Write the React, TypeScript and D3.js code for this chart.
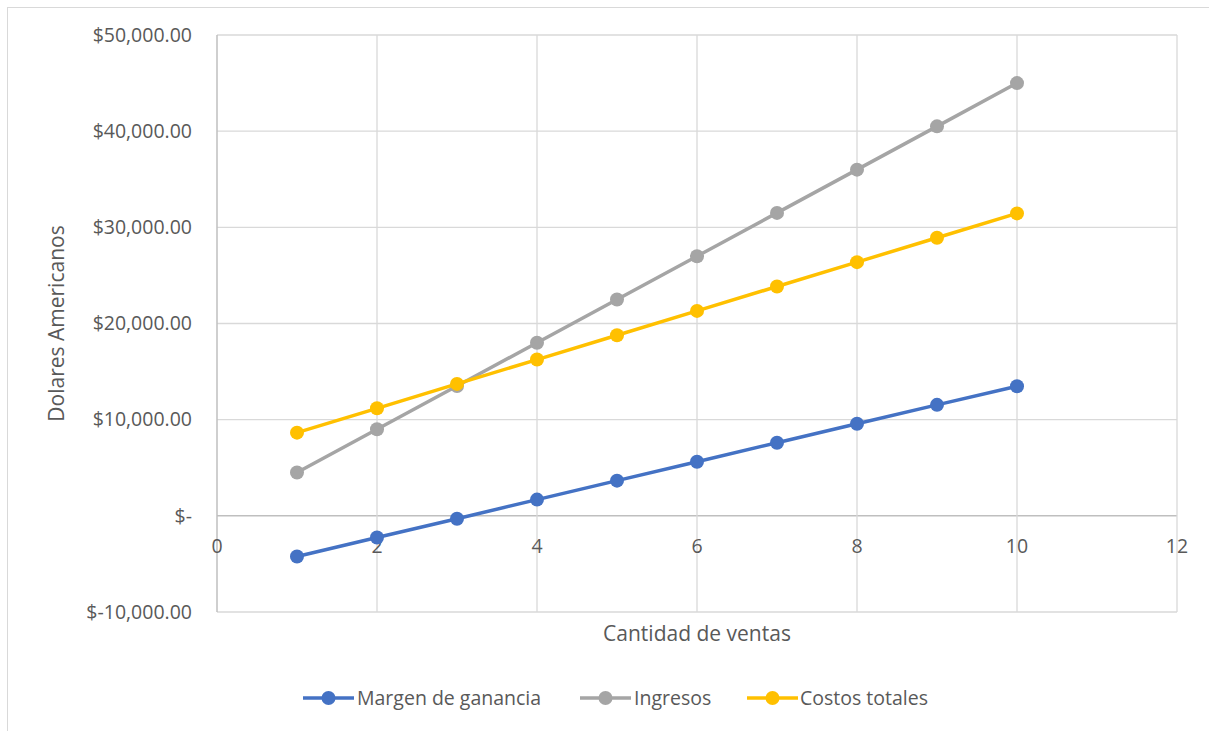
import React from "react";
import * as d3 from "d3";

const cantidades = [1, 2, 3, 4, 5, 6, 7, 8, 9, 10];
const margenGanancia = [-4230, -2250, -300, 1690, 3660, 5630, 7600, 9570, 11540, 13480];
const ingresos = [4500, 9000, 13500, 18000, 22500, 27000, 31500, 36000, 40500, 45000];
const costosTotales = [8650, 11180, 13720, 16250, 18780, 21310, 23850, 26380, 28920, 31450];
const xTicks = [0, 2, 4, 6, 8, 10, 12];
const yTicks = [-10000, 0, 10000, 20000, 30000, 40000, 50000];

const seriesNames = ["Margen de ganancia", "Ingresos", "Costos totales"];
const seriesColors = ["#4472C4", "#A5A5A5", "#FFC000"];
const seriesValues = [margenGanancia, ingresos, costosTotales];

const W = 1209;
const H = 731;
const FONT = "'Open Sans', sans-serif";

function fmtY(v: number) {
  if (v === 0) return "$-";
  const s = d3.format(",.2f")(Math.abs(v));
  return v < 0 ? `$-${s}` : `$${s}`;
}

export default function App() {
  const x = d3.scaleLinear().domain([0, 12]).range([217, 1177]);
  const y = d3.scaleLinear().domain([-10000, 50000]).range([612, 35]);
  const line = d3
    .line<number>()
    .x((_, i) => x(cantidades[i]))
    .y((d) => y(d));

  const legendItems = [
    { lineStart: 303, textX: 357 },
    { lineStart: 580, textX: 634 },
    { lineStart: 747, textX: 800 },
  ];

  return (
    <svg
      width={W}
      height={H}
      style={{ position: "absolute", left: 0, top: 0, background: "#fff" }}
      fontFamily={FONT}
    >
      <rect x={7.5} y={7.5} width={W + 20} height={H + 20} fill="#fff" stroke="#d9d9d9" strokeWidth={1} />
      {/* grid */}
      {yTicks.map((t) => (
        <line key={"gy" + t} x1={x(0)} x2={x(12)} y1={y(t)} y2={y(t)} stroke={t === 0 ? "#bfbfbf" : "#d9d9d9"} strokeWidth={t === 0 ? 1.5 : 1.3} />
      ))}
      {xTicks.map((t) => (
        <line key={"gx" + t} x1={x(t)} x2={x(t)} y1={y(50000)} y2={y(-10000)} stroke={t === 0 ? "#bfbfbf" : "#d9d9d9"} strokeWidth={t === 0 ? 1.5 : 1.3} />
      ))}
      {/* y labels */}
      {yTicks.map((t) => (
        <text key={"ly" + t} x={192} y={y(t)} dy="0.35em" textAnchor="end" fontSize={19.5} fill="#595959">
          {fmtY(t)}
        </text>
      ))}
      {/* x labels */}
      {xTicks.map((t) => (
        <text key={"lx" + t} x={x(t)} y={546} dy="0.35em" textAnchor="middle" fontSize={19.5} fill="#595959">
          {t}
        </text>
      ))}
      {/* axis titles */}
      <text transform={`translate(57,${(y(50000) + y(-10000)) / 2}) rotate(-90)`} dy="0.35em" textAnchor="middle" fontSize={21} fill="#595959">
        Dolares Americanos
      </text>
      <text x={(x(0) + x(12)) / 2} y={634} dy="0.35em" textAnchor="middle" fontSize={21} fill="#595959">
        Cantidad de ventas
      </text>
      {/* series */}
      {seriesValues.map((vals, si) => (
        <g key={"s" + si}>
          <path d={line(vals) || ""} fill="none" stroke={seriesColors[si]} strokeWidth={3.5} strokeLinejoin="round" />
          {vals.map((v, i) => (
            <circle key={i} cx={x(cantidades[i])} cy={y(v)} r={7} fill={seriesColors[si]} />
          ))}
        </g>
      ))}
      {/* legend */}
      {legendItems.map((it, i) => (
        <g key={"lg" + i}>
          <line x1={it.lineStart} x2={it.lineStart + 51} y1={698} y2={698} stroke={seriesColors[i]} strokeWidth={3.5} />
          <circle cx={it.lineStart + 25.5} cy={698} r={7} fill={seriesColors[i]} />
          <text x={it.textX} y={698} dy="0.35em" fontSize={19.5} fill="#595959">
            {seriesNames[i]}
          </text>
        </g>
      ))}
    </svg>
  );
}
